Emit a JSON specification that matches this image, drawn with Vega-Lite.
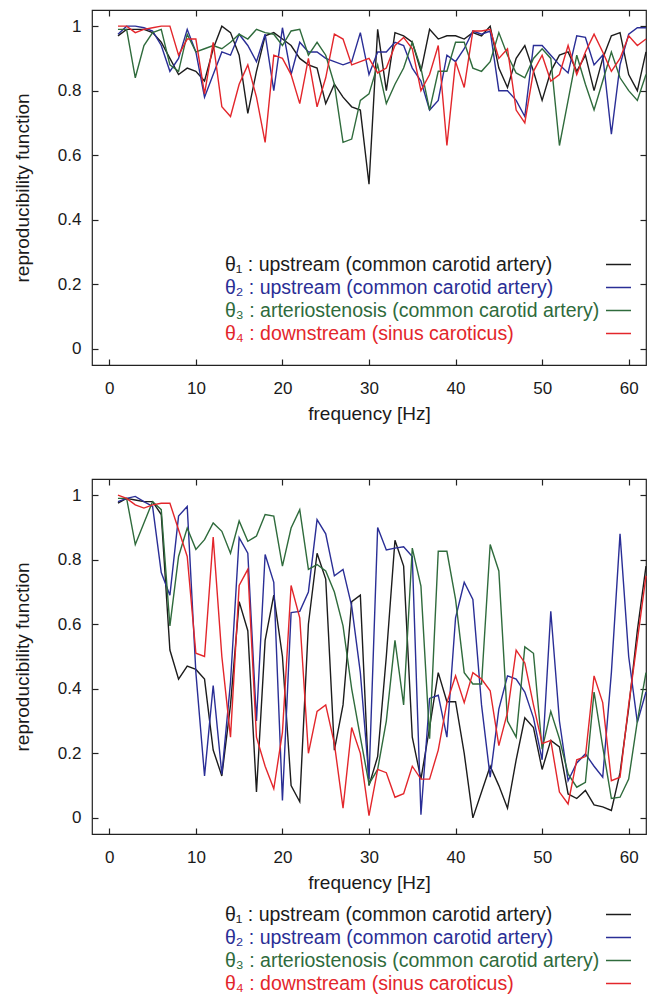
{
  "$schema": "https://vega.github.io/schema/vega-lite/v6.json",
  "padding": {"left": 12, "top": 8, "right": 10, "bottom": 2},
  "spacing": 53,
  "config": {
    "font": "Liberation Sans",
    "view": {"stroke": "#222222", "strokeWidth": 1.2},
    "axis": {"grid": false, "domain": false, "tickColor": "#222222", "tickSize": -6, "tickWidth": 1.2,
      "labelFontSize": 17, "labelColor": "#1a1a1a", "titleFontSize": 19, "titleFontWeight": "normal",
      "titleColor": "#1a1a1a"}
  },
  "datasets": {
    "top": [
      {"f":1,"t1":0.97,"t2":0.975,"t3":0.99,"t4":1.0},
      {"f":2,"t1":0.99,"t2":1.0,"t3":0.99,"t4":1.0},
      {"f":3,"t1":0.99,"t2":1.0,"t3":0.84,"t4":0.98},
      {"f":4,"t1":0.99,"t2":0.995,"t3":0.94,"t4":0.99},
      {"f":5,"t1":0.98,"t2":0.985,"t3":0.98,"t4":0.995},
      {"f":6,"t1":0.95,"t2":0.94,"t3":0.99,"t4":1.0},
      {"f":7,"t1":0.90,"t2":0.86,"t3":0.88,"t4":1.0},
      {"f":8,"t1":0.85,"t2":0.90,"t3":0.86,"t4":0.91},
      {"f":9,"t1":0.87,"t2":0.99,"t3":0.975,"t4":0.96},
      {"f":10,"t1":0.86,"t2":0.92,"t3":0.92,"t4":0.96},
      {"f":11,"t1":0.83,"t2":0.78,"t3":0.93,"t4":0.79},
      {"f":12,"t1":0.93,"t2":0.85,"t3":0.94,"t4":0.95},
      {"f":13,"t1":1.0,"t2":0.92,"t3":0.93,"t4":0.75},
      {"f":14,"t1":0.98,"t2":0.91,"t3":0.95,"t4":0.72},
      {"f":15,"t1":0.91,"t2":0.975,"t3":0.975,"t4":0.82},
      {"f":16,"t1":0.73,"t2":0.94,"t3":0.96,"t4":0.88},
      {"f":17,"t1":0.86,"t2":0.89,"t3":0.99,"t4":0.78},
      {"f":18,"t1":0.97,"t2":0.975,"t3":0.98,"t4":0.64},
      {"f":19,"t1":0.98,"t2":0.80,"t3":0.975,"t4":0.91},
      {"f":20,"t1":0.96,"t2":0.995,"t3":0.94,"t4":0.90},
      {"f":21,"t1":0.94,"t2":0.85,"t3":0.985,"t4":0.85},
      {"f":22,"t1":0.90,"t2":0.95,"t3":0.99,"t4":0.76},
      {"f":23,"t1":0.88,"t2":0.92,"t3":0.91,"t4":0.90},
      {"f":24,"t1":0.87,"t2":0.92,"t3":0.95,"t4":0.75},
      {"f":25,"t1":0.76,"t2":0.90,"t3":0.91,"t4":0.84},
      {"f":26,"t1":0.82,"t2":0.89,"t3":0.82,"t4":0.975},
      {"f":27,"t1":0.78,"t2":0.88,"t3":0.64,"t4":0.96},
      {"f":28,"t1":0.75,"t2":0.89,"t3":0.65,"t4":0.88},
      {"f":29,"t1":0.74,"t2":0.98,"t3":0.77,"t4":0.89},
      {"f":30,"t1":0.51,"t2":0.85,"t3":0.79,"t4":0.90},
      {"f":31,"t1":0.99,"t2":0.92,"t3":0.88,"t4":0.855},
      {"f":32,"t1":0.80,"t2":0.92,"t3":0.76,"t4":0.87},
      {"f":33,"t1":0.98,"t2":0.95,"t3":0.82,"t4":0.94},
      {"f":34,"t1":0.97,"t2":0.94,"t3":0.87,"t4":0.965},
      {"f":35,"t1":0.95,"t2":0.87,"t3":0.95,"t4":0.93},
      {"f":36,"t1":0.86,"t2":0.83,"t3":0.87,"t4":0.80},
      {"f":37,"t1":0.99,"t2":0.74,"t3":0.74,"t4":0.85},
      {"f":38,"t1":0.96,"t2":0.77,"t3":0.86,"t4":0.94},
      {"f":39,"t1":0.97,"t2":0.91,"t3":0.86,"t4":0.63},
      {"f":40,"t1":0.97,"t2":0.89,"t3":0.95,"t4":0.89},
      {"f":41,"t1":0.96,"t2":0.93,"t3":0.95,"t4":0.81},
      {"f":42,"t1":0.98,"t2":0.985,"t3":0.87,"t4":0.985},
      {"f":43,"t1":0.97,"t2":0.975,"t3":0.86,"t4":0.985},
      {"f":44,"t1":1.0,"t2":0.985,"t3":0.89,"t4":0.99},
      {"f":45,"t1":0.87,"t2":0.80,"t3":0.98,"t4":0.90},
      {"f":46,"t1":0.81,"t2":0.80,"t3":0.91,"t4":0.93},
      {"f":47,"t1":0.90,"t2":0.77,"t3":0.855,"t4":0.74},
      {"f":48,"t1":0.94,"t2":0.72,"t3":0.84,"t4":0.70},
      {"f":49,"t1":0.86,"t2":0.94,"t3":0.90,"t4":0.86},
      {"f":50,"t1":0.77,"t2":0.94,"t3":0.93,"t4":0.91},
      {"f":51,"t1":0.86,"t2":0.91,"t3":0.90,"t4":0.83},
      {"f":52,"t1":0.91,"t2":0.88,"t3":0.63,"t4":0.85},
      {"f":53,"t1":0.92,"t2":0.855,"t3":0.77,"t4":0.94},
      {"f":54,"t1":0.86,"t2":0.97,"t3":0.91,"t4":0.85},
      {"f":55,"t1":0.91,"t2":0.965,"t3":0.82,"t4":0.92},
      {"f":56,"t1":0.80,"t2":0.88,"t3":0.74,"t4":0.975},
      {"f":57,"t1":0.90,"t2":0.91,"t3":0.83,"t4":0.92},
      {"f":58,"t1":0.97,"t2":0.665,"t3":0.92,"t4":0.86},
      {"f":59,"t1":0.98,"t2":0.88,"t3":0.84,"t4":0.90},
      {"f":60,"t1":0.85,"t2":0.975,"t3":0.80,"t4":0.97},
      {"f":61,"t1":0.80,"t2":0.995,"t3":0.77,"t4":0.94},
      {"f":62,"t1":0.92,"t2":0.995,"t3":0.85,"t4":0.96}
    ],
    "bottom": [
      {"f":1,"t1":0.975,"t2":0.98,"t3":0.99,"t4":1.0},
      {"f":2,"t1":0.99,"t2":0.99,"t3":0.99,"t4":0.99},
      {"f":3,"t1":0.985,"t2":0.996,"t3":0.847,"t4":0.97},
      {"f":4,"t1":0.98,"t2":0.98,"t3":0.914,"t4":0.96},
      {"f":5,"t1":0.98,"t2":0.965,"t3":0.98,"t4":0.97},
      {"f":6,"t1":0.94,"t2":0.76,"t3":0.955,"t4":0.975},
      {"f":7,"t1":0.52,"t2":0.69,"t3":0.595,"t4":0.975},
      {"f":8,"t1":0.43,"t2":0.935,"t3":0.81,"t4":0.893},
      {"f":9,"t1":0.47,"t2":0.965,"t3":0.898,"t4":0.81},
      {"f":10,"t1":0.46,"t2":0.45,"t3":0.832,"t4":0.51},
      {"f":11,"t1":0.43,"t2":0.13,"t3":0.862,"t4":0.50},
      {"f":12,"t1":0.21,"t2":0.41,"t3":0.914,"t4":0.87},
      {"f":13,"t1":0.13,"t2":0.135,"t3":0.888,"t4":0.50},
      {"f":14,"t1":0.35,"t2":0.42,"t3":0.82,"t4":0.25},
      {"f":15,"t1":0.67,"t2":0.868,"t3":0.92,"t4":0.72},
      {"f":16,"t1":0.58,"t2":0.82,"t3":0.857,"t4":0.77},
      {"f":17,"t1":0.08,"t2":0.30,"t3":0.873,"t4":0.25},
      {"f":18,"t1":0.55,"t2":0.816,"t3":0.94,"t4":0.16},
      {"f":19,"t1":0.69,"t2":0.73,"t3":0.935,"t4":0.09},
      {"f":20,"t1":0.50,"t2":0.054,"t3":0.78,"t4":0.265},
      {"f":21,"t1":0.10,"t2":0.636,"t3":0.898,"t4":0.72},
      {"f":22,"t1":0.05,"t2":0.64,"t3":0.955,"t4":0.62},
      {"f":23,"t1":0.60,"t2":0.70,"t3":0.77,"t4":0.20},
      {"f":24,"t1":0.82,"t2":0.924,"t3":0.785,"t4":0.33},
      {"f":25,"t1":0.74,"t2":0.88,"t3":0.765,"t4":0.35},
      {"f":26,"t1":0.21,"t2":0.75,"t3":0.70,"t4":0.23},
      {"f":27,"t1":0.35,"t2":0.77,"t3":0.595,"t4":0.03},
      {"f":28,"t1":0.67,"t2":0.656,"t3":0.40,"t4":0.28},
      {"f":29,"t1":0.69,"t2":0.45,"t3":0.25,"t4":0.20},
      {"f":30,"t1":0.10,"t2":0.12,"t3":0.105,"t4":0.007},
      {"f":31,"t1":0.19,"t2":0.90,"t3":0.15,"t4":0.15},
      {"f":32,"t1":0.50,"t2":0.83,"t3":0.30,"t4":0.14},
      {"f":33,"t1":0.86,"t2":0.836,"t3":0.55,"t4":0.064},
      {"f":34,"t1":0.78,"t2":0.84,"t3":0.35,"t4":0.075},
      {"f":35,"t1":0.25,"t2":0.81,"t3":0.836,"t4":0.16},
      {"f":36,"t1":0.12,"t2":0.01,"t3":0.718,"t4":0.12},
      {"f":37,"t1":0.28,"t2":0.37,"t3":0.245,"t4":0.12},
      {"f":38,"t1":0.45,"t2":0.38,"t3":0.826,"t4":0.21},
      {"f":39,"t1":0.36,"t2":0.25,"t3":0.826,"t4":0.357},
      {"f":40,"t1":0.36,"t2":0.62,"t3":0.677,"t4":0.44},
      {"f":41,"t1":0.20,"t2":0.73,"t3":0.45,"t4":0.357},
      {"f":42,"t1":0.0,"t2":0.677,"t3":0.415,"t4":0.45},
      {"f":43,"t1":0.08,"t2":0.35,"t3":0.415,"t4":0.43},
      {"f":44,"t1":0.16,"t2":0.126,"t3":0.847,"t4":0.394},
      {"f":45,"t1":0.10,"t2":0.337,"t3":0.765,"t4":0.224},
      {"f":46,"t1":0.03,"t2":0.44,"t3":0.30,"t4":0.327},
      {"f":47,"t1":0.18,"t2":0.43,"t3":0.25,"t4":0.52},
      {"f":48,"t1":0.31,"t2":0.39,"t3":0.53,"t4":0.48},
      {"f":49,"t1":0.28,"t2":0.31,"t3":0.51,"t4":0.35},
      {"f":50,"t1":0.15,"t2":0.18,"t3":0.213,"t4":0.23},
      {"f":51,"t1":0.24,"t2":0.64,"t3":0.33,"t4":0.24},
      {"f":52,"t1":0.22,"t2":0.30,"t3":0.245,"t4":0.08},
      {"f":53,"t1":0.074,"t2":0.115,"t3":0.136,"t4":0.043},
      {"f":54,"t1":0.06,"t2":0.17,"t3":0.095,"t4":0.18},
      {"f":55,"t1":0.085,"t2":0.198,"t3":0.11,"t4":0.19},
      {"f":56,"t1":0.04,"t2":0.16,"t3":0.39,"t4":0.44},
      {"f":57,"t1":0.034,"t2":0.126,"t3":0.22,"t4":0.357},
      {"f":58,"t1":0.023,"t2":0.45,"t3":0.06,"t4":0.115},
      {"f":59,"t1":0.14,"t2":0.88,"t3":0.064,"t4":0.126},
      {"f":60,"t1":0.34,"t2":0.50,"t3":0.12,"t4":0.35},
      {"f":61,"t1":0.58,"t2":0.296,"t3":0.30,"t4":0.55},
      {"f":62,"t1":0.78,"t2":0.39,"t3":0.45,"t4":0.75}
    ]
  },
  "resolve": {"scale": {"color": "independent"}, "legend": {"color": "independent"}},
  "vconcat": [
    {
      "width": 554, "height": 355,
      "data": {"name": "top"},
      "transform": [{"fold": ["t1", "t2", "t3", "t4"], "as": ["series", "v"]}],
      "layer": [
        {
          "mark": {"type": "line", "strokeWidth": 1.4},
          "encoding": {
            "x": {"field": "f", "type": "quantitative", "scale": {"domain": [-2, 62], "nice": false, "zero": false},
              "axis": {"orient": "bottom", "values": [0, 10, 20, 30, 40, 50, 60], "title": "frequency [Hz]", "labelPadding": 21, "titlePadding": 8}},
            "y": {"field": "v", "type": "quantitative", "scale": {"domain": [-0.05, 1.05], "nice": false, "zero": false},
              "axis": {"orient": "left", "values": [0, 0.2, 0.4, 0.6, 0.8, 1], "format": ".1~f", "title": "reproducibility function", "labelPadding": 17, "titlePadding": 25}},
            "color": {"field": "series", "type": "nominal",
              "scale": {"domain": ["t1", "t2", "t3", "t4"], "range": ["#1c1c1c", "#2a2e96", "#2f6b3c", "#e3262b"]},
              "legend": {"orient": "none", "legendX": 513, "legendY": 241, "title": null, "padding": 0,
                "symbolType": "stroke", "symbolSize": 625, "symbolStrokeWidth": 1.5,
                "labelFontSize": 19.5, "labelLimit": 700, "labelOffset": -407, "rowPadding": -2.6,
                "labelExpr": "datum.value == 't1' ? 'θ₁ : upstream (common carotid artery)' : datum.value == 't2' ? 'θ₂ : upstream (common carotid artery)' : datum.value == 't3' ? 'θ₃ : arteriostenosis (common carotid artery)' : 'θ₄ : downstream (sinus caroticus)'",
                "encode": {"labels": {"update": {"fill": [
                  {"test": "datum.value == 't1'", "value": "#1c1c1c"},
                  {"test": "datum.value == 't2'", "value": "#2a2e96"},
                  {"test": "datum.value == 't3'", "value": "#2f6b3c"},
                  {"value": "#e3262b"}]}}}}
            }
          }
        },
        {
          "mark": {"type": "line", "opacity": 0},
          "encoding": {
            "x": {"field": "f", "type": "quantitative", "axis": {"orient": "top", "values": [0, 10, 20, 30, 40, 50, 60], "labels": false, "title": null}},
            "y": {"field": "v", "type": "quantitative", "axis": {"orient": "right", "values": [0, 0.2, 0.4, 0.6, 0.8, 1], "labels": false, "title": null}},
            "detail": {"field": "series"}
          }
        }
      ],
      "resolve": {"axis": {"x": "independent", "y": "independent"}}
    },
    {
      "width": 554, "height": 355,
      "data": {"name": "bottom"},
      "transform": [{"fold": ["t1", "t2", "t3", "t4"], "as": ["series", "v"]}],
      "layer": [
        {
          "mark": {"type": "line", "strokeWidth": 1.4},
          "encoding": {
            "x": {"field": "f", "type": "quantitative", "scale": {"domain": [-2, 62], "nice": false, "zero": false},
              "axis": {"orient": "bottom", "values": [0, 10, 20, 30, 40, 50, 60], "title": "frequency [Hz]", "labelPadding": 21, "titlePadding": 8}},
            "y": {"field": "v", "type": "quantitative", "scale": {"domain": [-0.05, 1.05], "nice": false, "zero": false},
              "axis": {"orient": "left", "values": [0, 0.2, 0.4, 0.6, 0.8, 1], "format": ".1~f", "title": "reproducibility function", "labelPadding": 17, "titlePadding": 25}},
            "color": {"field": "series", "type": "nominal",
              "scale": {"domain": ["t1", "t2", "t3", "t4"], "range": ["#1c1c1c", "#2a2e96", "#2f6b3c", "#e3262b"]},
              "legend": {"orient": "none", "legendX": 513, "legendY": 422, "title": null, "padding": 0,
                "symbolType": "stroke", "symbolSize": 625, "symbolStrokeWidth": 1.5,
                "labelFontSize": 19.5, "labelLimit": 700, "labelOffset": -407, "rowPadding": -2.6,
                "labelExpr": "datum.value == 't1' ? 'θ₁ : upstream (common carotid artery)' : datum.value == 't2' ? 'θ₂ : upstream (common carotid artery)' : datum.value == 't3' ? 'θ₃ : arteriostenosis (common carotid artery)' : 'θ₄ : downstream (sinus caroticus)'",
                "encode": {"labels": {"update": {"fill": [
                  {"test": "datum.value == 't1'", "value": "#1c1c1c"},
                  {"test": "datum.value == 't2'", "value": "#2a2e96"},
                  {"test": "datum.value == 't3'", "value": "#2f6b3c"},
                  {"value": "#e3262b"}]}}}}
            }
          }
        },
        {
          "mark": {"type": "line", "opacity": 0},
          "encoding": {
            "x": {"field": "f", "type": "quantitative", "axis": {"orient": "top", "values": [0, 10, 20, 30, 40, 50, 60], "labels": false, "title": null}},
            "y": {"field": "v", "type": "quantitative", "axis": {"orient": "right", "values": [0, 0.2, 0.4, 0.6, 0.8, 1], "labels": false, "title": null}},
            "detail": {"field": "series"}
          }
        }
      ],
      "resolve": {"axis": {"x": "independent", "y": "independent"}}
    }
  ]
}
